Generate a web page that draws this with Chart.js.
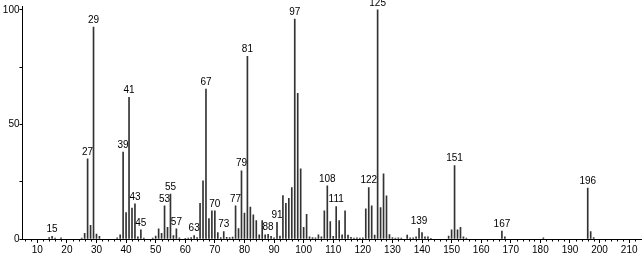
<!DOCTYPE html>
<html><head><meta charset="utf-8">
<script src="https://cdn.jsdelivr.net/npm/chart.js@4/dist/chart.umd.min.js"></script>
<style>html,body{margin:0;padding:0;background:#fff}#wrap{width:644px;height:256px}</style>
</head><body><div id="wrap"><canvas id="c" width="644" height="256"></canvas></div>
<script>
const mz = [14,15,16,18,25,26,27,28,29,30,31,37,38,39,40,41,42,43,44,45,46,49,50,51,52,53,54,55,56,57,58,60,61,62,63,64,65,66,67,68,69,70,71,72,73,74,75,76,77,78,79,80,81,82,83,84,85,86,87,88,89,90,91,92,93,94,95,96,97,98,99,100,101,102,103,104,105,106,107,108,109,110,111,112,113,114,115,116,117,118,119,120,121,122,123,124,125,126,127,128,129,130,131,132,133,135,136,137,138,139,140,141,142,143,149,150,151,152,153,154,155,167,168,181,196,197,198];
const intensity = [0.6,1.2,0.4,0.5,0.4,2.5,35,6,92.5,2.2,1.2,0.5,1.8,38,11.5,61.8,13.5,15.3,1,4,0.4,0.4,1.3,4.4,2.5,14.5,5.1,19.6,1.5,4.4,0.5,0.3,0.4,0.6,1.5,0.6,15.6,25.4,65.5,8.9,12.3,12.3,2.8,0.6,3.2,0.7,0.6,0.8,14.5,4.5,29.8,11.3,79.7,13.9,10.5,8,1.8,8,1.8,2,1.2,0.5,7.3,1.3,19,15.6,17.8,22.5,96,63.6,30.6,5.1,10.8,1,0.6,0.5,1.8,1,12.3,23.2,7.6,1.2,14.2,8,1.8,12.3,1.7,0.7,0.4,0.5,0.4,0.5,13.2,22.5,14.5,1.7,100,13.7,28.4,18.9,1.9,0.6,0.4,0.5,0.4,1.7,0.5,0.5,1,4.7,2.8,1,1,0.3,1.3,4,32.1,4,5.1,1,0.4,3.5,1,0.5,22.2,3.2,0.6];
const labeledPeaks = [15,27,29,39,41,43,45,53,55,57,63,67,70,73,77,79,81,88,91,97,108,111,122,125,139,151,167,196];
const xTickLabels = [10,20,30,40,50,60,70,80,90,100,110,120,130,140,150,160,170,180,190,200,210];
const yTickValues = [0,25,50,75,100];
const yTickLabels = ['0','','50','','100'];

const FONT = "'Liberation Sans', Arial, sans-serif";

const peakLabelPlugin = {
  id: 'peakLabels',
  afterDatasetsDraw(chart) {
    const ctx = chart.ctx;
    const meta = chart.getDatasetMeta(0);
    ctx.save();
    ctx.fillStyle = '#000';
    ctx.font = '10px ' + FONT;
    ctx.textAlign = 'center';
    ctx.textBaseline = 'bottom';
    meta.data.forEach((el, i) => {
      if (labeledPeaks.includes(mz[i])) {
        ctx.fillText(String(mz[i]), el.x, el.y - 2);
      }
    });
    ctx.restore();
  },
  afterDraw(chart) {
    const xs = chart.scales.x, ctx = chart.ctx;
    const y0 = xs.top;
    ctx.save();
    ctx.strokeStyle = '#000';
    ctx.lineWidth = 1;
    ctx.beginPath();
    for (let v = 6; v <= 212; v += 2) {
      if (v % 10 === 0) continue;
      const px = Math.round(xs.getPixelForValue(v)) + 0.5;
      ctx.moveTo(px, y0);
      ctx.lineTo(px, y0 + 2.5);
    }
    ctx.stroke();
    ctx.restore();
  }
};

new Chart(document.getElementById('c'), {
  type: 'bar',
  data: {
    datasets: [{
      data: mz.map((m, i) => ({x: m, y: intensity[i]})),
      backgroundColor: '#333333',
      borderWidth: 0,
      barThickness: 1
    }]
  },
  options: {
    responsive: false,
    animation: false,
    devicePixelRatio: 1,
    layout: {padding: {left: 0, right: 3, top: 6.5, bottom: 0}},
    plugins: {legend: {display: false}, tooltip: {enabled: false}},
    scales: {
      x: {
        type: 'linear', min: 5, max: 214, offset: false,
        afterBuildTicks: s => { s.ticks = xTickLabels.map(v => ({value: v})); },
        afterFit: s => { s.height = 17; },
        grid: {drawOnChartArea: false, drawTicks: true, tickLength: 4, color: '#000', lineWidth: 1, offset: false},
        border: {display: true, color: '#000', width: 1},
        ticks: {font: {size: 10, family: FONT}, color: '#000', padding: 1, maxRotation: 0, autoSkip: false,
          callback: v => String(v)}
      },
      y: {
        type: 'linear', min: 0, max: 101.5,
        afterBuildTicks: s => { s.ticks = yTickValues.map(v => ({value: v})); },
        afterFit: s => { s.width = 22.5; },
        grid: {drawOnChartArea: false, drawTicks: true, tickLength: 3, color: '#000', lineWidth: 1},
        border: {display: true, color: '#000', width: 1},
        ticks: {font: {size: 10, family: FONT}, color: '#000', padding: 0, autoSkip: false,
          callback: (v, i) => yTickLabels[i]}
      }
    }
  },
  plugins: [peakLabelPlugin]
});
</script>
</body></html>
